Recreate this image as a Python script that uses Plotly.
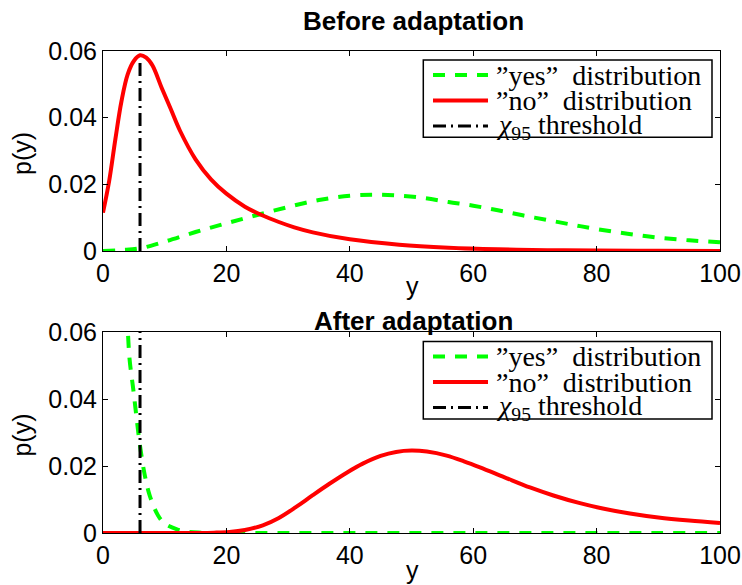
import plotly.graph_objects as go

# ---------------- data ----------------
# Before adaptation
top_yes_x = [0, 3, 6, 10, 15, 20, 25, 30, 35, 40, 44, 48, 52, 56, 60, 64, 68, 72, 76, 80, 85, 90, 95, 100]
top_yes_y = [0.0, 0.0003, 0.0008, 0.0028, 0.0057, 0.0083, 0.0108, 0.0132, 0.0153, 0.0166, 0.0169, 0.0166,
             0.0159, 0.0147, 0.0136, 0.0122, 0.0107, 0.0093, 0.0079, 0.0066, 0.0052, 0.0040, 0.0032, 0.0026]

top_no_x = [0, 1, 2, 3, 4, 5, 6, 7, 8, 9.5, 11, 12.5, 15, 17.5, 20, 23, 25.7, 28.5, 31, 34, 40, 48, 56, 64,
            72, 80, 90, 100]
top_no_y = [0.0115, 0.021, 0.0335, 0.045, 0.053, 0.057, 0.0587, 0.058, 0.0557, 0.049, 0.0425, 0.036, 0.0275,
            0.0215, 0.0172, 0.0133, 0.0108, 0.0087, 0.0071, 0.0056, 0.0035, 0.0019, 0.0010, 0.0005, 0.00025,
            0.00012, 0.00005, 0.00002]

top_thr_x = [6, 6]
top_thr_y = [0, 0.0578]

# After adaptation
bot_yes_x = [3.6, 4.0, 4.3, 4.9, 5.4, 6.0, 6.8, 7.6, 8.9, 10, 12, 14, 16, 20, 30, 40, 50, 60, 70, 80, 90, 100]
bot_yes_y = [0.072, 0.061, 0.052, 0.043, 0.035, 0.026, 0.017, 0.011, 0.0053, 0.0028, 0.0011, 0.0003, 0.0001,
             0, 0, 0, 0, 0, 0, 0, 0, 0]

bot_no_x = [0, 5, 10, 15, 18, 20.5, 23, 25.9, 28.5, 31.3, 34, 36.7, 39.5, 42.1, 45, 47.5, 50, 52.5, 55.7,
            58.5, 61.1, 65, 69.2, 73, 77.3, 81, 85.4, 90, 95, 100]
bot_no_y = [0, 0, 0, 0.00002, 0.0001, 0.0003, 0.0009, 0.0023, 0.0045, 0.0078, 0.0113, 0.0147, 0.0180, 0.0207,
            0.0230, 0.0242, 0.0246, 0.0243, 0.0231, 0.0214, 0.0196, 0.0167, 0.0136, 0.0112, 0.0089, 0.0073,
            0.0058, 0.0046, 0.0037, 0.0030]

bot_thr_x = [6, 6]
bot_thr_y = [0, 0.06]

x_ticks = [0, 20, 40, 60, 80, 100]
y_ticks = [0, 0.02, 0.04, 0.06]
y_tick_text = ["0", "0.02", "0.04", "0.06"]

titles = ["Before adaptation", "After adaptation"]
legend_labels = ["\u201dyes\u201d  distribution", "\u201dno\u201d  distribution",
                 "<i>\u03c7</i><sub>95</sub> threshold"]

# ---------------- styling ----------------
GREEN = "#00FF00"
RED = "#FF0000"
BLACK = "#000000"
GREEN_DASH = "12px,10px"
BLACK_DASH = "13px,5px,2px,5px"
SANS = "Liberation Sans, Arial, sans-serif"
SERIF = "Liberation Serif, Times New Roman, serif"

W, H = 742, 585
ML, MR, MT, MB = 103, 22, 51, 52
PW = W - ML - MR
PH = H - MT - MB


def px2x(px):
    return (px - ML) / PW


def px2y(py):
    return (H - MB - py) / PH


fig = go.Figure()

panels = [
    (top_yes_x, top_yes_y, top_no_x, top_no_y, top_thr_x, top_thr_y, "x", "y"),
    (bot_yes_x, bot_yes_y, bot_no_x, bot_no_y, bot_thr_x, bot_thr_y, "x2", "y2"),
]

for yx, yy, nx, ny, tx, ty, xa, ya in panels:
    fig.add_trace(go.Scatter(x=yx, y=yy, mode="lines", xaxis=xa, yaxis=ya, showlegend=False,
                             hoverinfo="skip",
                             line=dict(color=GREEN, width=4, dash=GREEN_DASH, shape="spline")))
    fig.add_trace(go.Scatter(x=nx, y=ny, mode="lines", xaxis=xa, yaxis=ya, showlegend=False,
                             hoverinfo="skip",
                             line=dict(color=RED, width=4, shape="spline")))
    fig.add_trace(go.Scatter(x=tx, y=ty, mode="lines", xaxis=xa, yaxis=ya, showlegend=False,
                             hoverinfo="skip",
                             line=dict(color=BLACK, width=3, dash=BLACK_DASH)))

top_dom = [px2y(251), 1.0]
bot_dom = [0.0, px2y(332)]

common_x = dict(range=[0, 100], tickvals=x_ticks, ticks="inside", ticklen=5, tickcolor=BLACK,
                showline=True, linecolor=BLACK, linewidth=1, mirror="ticks", showgrid=False,
                zeroline=False, tickfont=dict(family=SANS, size=25, color=BLACK), fixedrange=True,
                automargin=False)
common_y = dict(range=[0, 0.06], tickvals=y_ticks, ticktext=y_tick_text, ticks="inside", ticklen=5,
                tickcolor=BLACK, showline=True, linecolor=BLACK, linewidth=1, mirror="ticks",
                showgrid=False, zeroline=False, tickfont=dict(family=SANS, size=25, color=BLACK),
                fixedrange=True, automargin=False)

fig.update_layout(
    width=W, height=H, autosize=False,
    margin=dict(l=ML, r=MR, t=MT, b=MB),
    paper_bgcolor="white", plot_bgcolor="white",
    xaxis=dict(domain=[0, 1], anchor="y", **common_x),
    yaxis=dict(domain=top_dom, anchor="x", **common_y),
    xaxis2=dict(domain=[0, 1], anchor="y2", **common_x),
    yaxis2=dict(domain=bot_dom, anchor="x2", **common_y),
    showlegend=False,
)

annotations = []
shapes = []
offsets = [0, 281.6]
title_py = [21.5, 321]
xlab_py = [286, 570]
for i, off in enumerate(offsets):
    # title
    annotations.append(dict(text="<b>%s</b>" % titles[i], x=px2x(413), y=px2y(title_py[i]),
                            xref="paper", yref="paper", xanchor="center", yanchor="middle",
                            showarrow=False, font=dict(family=SANS, size=26, color=BLACK)))
    # y-axis label
    annotations.append(dict(text="p(y)", x=px2x(22), y=px2y(154 + off), xref="paper", yref="paper",
                            xanchor="center", yanchor="middle", textangle=-90, showarrow=False,
                            font=dict(family=SANS, size=25, color=BLACK)))
    # x-axis label
    annotations.append(dict(text="y", x=px2x(412), y=px2y(xlab_py[i]),
                            xref="paper", yref="paper", xanchor="center", yanchor="middle",
                            showarrow=False, font=dict(family=SANS, size=25, color=BLACK)))
    # legend box
    shapes.append(dict(type="rect", xref="paper", yref="paper", x0=px2x(423.3), x1=px2x(712),
                       y0=px2y(60 + off), y1=px2y(137.3 + off), line=dict(color=BLACK, width=1.5),
                       fillcolor="white", layer="above"))
    rows = [75, 100.5, 126]
    styles = [(GREEN, 4, GREEN_DASH), (RED, 4, "solid"), (BLACK, 3, BLACK_DASH)]
    for r, (col, wd, ds), lab in zip(rows, styles, legend_labels):
        shapes.append(dict(type="line", xref="paper", yref="paper", x0=px2x(433), x1=px2x(488),
                           y0=px2y(r + off), y1=px2y(r + off), line=dict(color=col, width=wd, dash=ds),
                           layer="above"))
        annotations.append(dict(text=lab, x=px2x(494), y=px2y(r + off), xref="paper", yref="paper",
                                xanchor="left", yanchor="middle", showarrow=False,
                                font=dict(family=SERIF, size=28, color=BLACK)))

fig.update_layout(annotations=annotations, shapes=shapes)

fig.write_html(
    "out.html",
    config={"displayModeBar": False, "responsive": False},
    post_script="document.body.style.margin='0';document.body.style.overflow='hidden';"
                "document.documentElement.style.overflow='hidden';",
)
